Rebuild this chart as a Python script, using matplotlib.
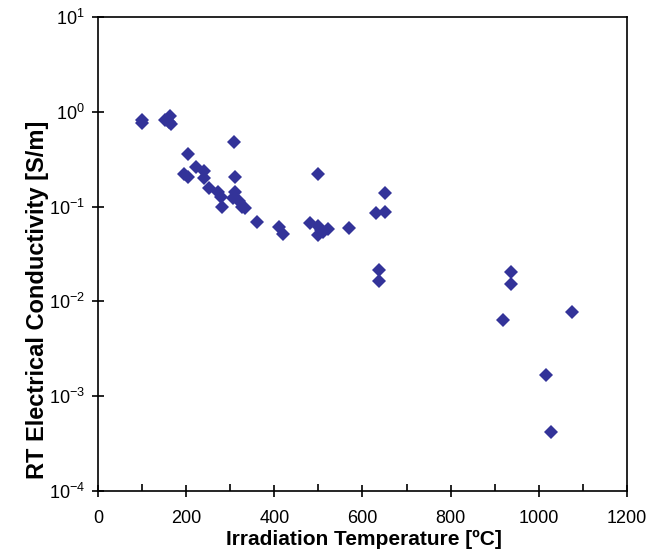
import matplotlib
matplotlib.use("Agg")
import matplotlib.pyplot as plt
from matplotlib.ticker import FixedLocator, NullLocator

plt.rcParams['font.family'] = ['Liberation Sans', 'DejaVu Sans']
plt.rcParams['mathtext.fontset'] = 'custom'
plt.rcParams['mathtext.rm'] = 'Liberation Sans'
plt.rcParams['mathtext.default'] = 'regular'
plt.rcParams['axes.unicode_minus'] = False

temperature = [100, 100, 152, 160, 163, 166, 195, 205, 205, 222, 240, 240, 252,
               273, 278, 281, 309, 311, 311, 307, 321, 326, 333, 361, 411, 419,
               481, 500, 500, 500, 505, 510, 522, 569, 631, 650, 650, 638, 638,
               918, 936, 936, 1075, 1016, 1027]
conductivity = [0.82, 0.757, 0.82, 0.79, 0.90, 0.74, 0.221, 0.206, 0.359, 0.26,
                0.238, 0.199, 0.156, 0.141, 0.125, 0.0998, 0.476, 0.204, 0.144,
                0.122, 0.115, 0.0998, 0.097, 0.068, 0.061, 0.051, 0.0676, 0.219,
                0.0624, 0.050, 0.057, 0.054, 0.0575, 0.059, 0.0863, 0.0877, 0.138,
                0.0214, 0.0164, 0.0063, 0.0203, 0.0151, 0.00778, 0.00167, 0.000422]
x_ticks = [0, 200, 400, 600, 800, 1000, 1200]
y_ticks = [1e-4, 1e-3, 1e-2, 1e-1, 1e0, 1e1]
y_labels = ['10$^{-4}$', '10$^{-3}$', '10$^{-2}$', '10$^{-1}$', '10$^{0}$', '10$^{1}$']

fig = plt.figure(figsize=(6.48, 5.56), dpi=100)
ax = fig.add_axes([0.1512, 0.1169, 0.8164, 0.8525])

ax.plot(temperature, conductivity, linestyle='none', marker='D',
        markersize=7.3, color='#333399', markeredgewidth=0)

ax.set_yscale('log')
ax.set_xlim(0, 1200)
ax.set_ylim(1e-4, 1e1)
ax.set_xticks(x_ticks)
ax.set_xticklabels([str(t) for t in x_ticks])
ax.xaxis.set_minor_locator(FixedLocator([100, 300, 500, 700, 900, 1100]))
ax.set_yticks(y_ticks)
ax.set_yticklabels(y_labels)
ax.yaxis.set_minor_locator(NullLocator())

ax.tick_params(axis='both', which='major', direction='inout', length=9, width=1.2,
               labelsize=13, colors='black')
ax.tick_params(axis='x', which='major', pad=9)
ax.tick_params(axis='y', which='major', pad=5)
ax.tick_params(axis='x', which='minor', direction='in', length=5, width=1.2)
for s in ax.spines.values():
    s.set_linewidth(1.2)

ax.set_xlabel('Irradiation Temperature [ºC]', fontsize=15, fontweight='bold')
ax.set_ylabel('RT Electrical Conductivity [S/m]', fontsize=17, fontweight='bold')
ax.xaxis.set_label_coords(0.502, -0.082)
ax.yaxis.set_label_coords(-0.092, 0.403)

fig.savefig('out.png', dpi=100)
